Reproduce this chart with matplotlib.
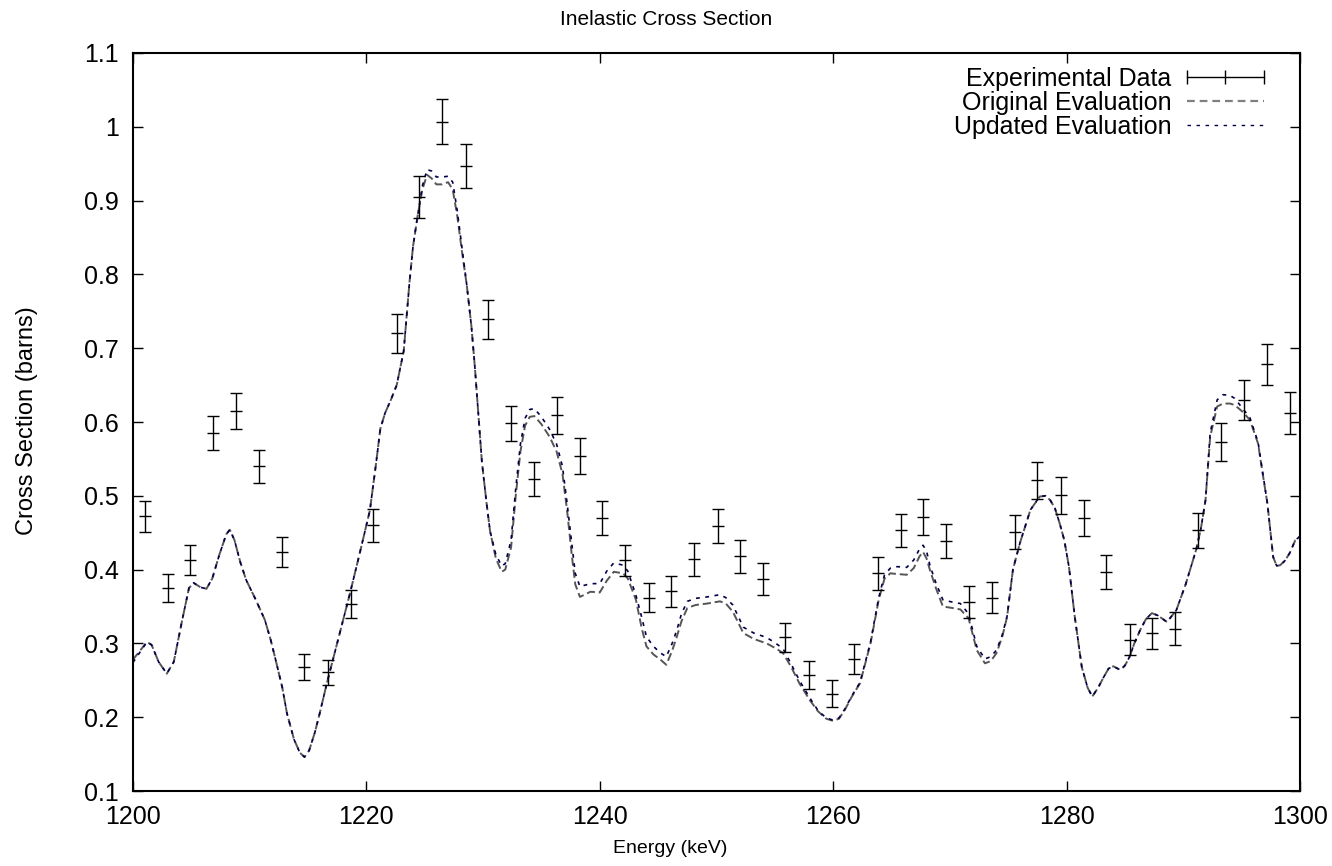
#!/usr/bin/env python3
"""Inelastic cross section: measured points against two evaluations."""

import matplotlib

matplotlib.use("Agg")
import matplotlib.pyplot as plt
from matplotlib.lines import Line2D
from matplotlib.ticker import FuncFormatter, MultipleLocator

plt.rcParams["font.family"] = ["Liberation Sans", "DejaVu Sans"]
plt.rcParams["font.size"] = 18

# Experimental points (keV, barns, 1-sigma)
exp_energy = [
    1201.0, 1203.0, 1204.9, 1206.9, 1208.8, 1210.8, 1212.8, 1214.7, 1216.7,
    1218.7, 1220.6, 1222.6, 1224.5, 1226.5, 1228.5, 1230.4, 1232.4, 1234.4,
    1236.3, 1238.3, 1240.2, 1242.2, 1244.2, 1246.1, 1248.1, 1250.1, 1252.0,
    1254.0, 1255.9, 1257.9, 1259.9, 1261.8, 1263.8, 1265.8, 1267.7, 1269.7,
    1271.6, 1273.6, 1275.6, 1277.5, 1279.5, 1281.5, 1283.4, 1285.4, 1287.3,
    1289.3, 1291.3, 1293.2, 1295.2, 1297.2, 1299.1,
]
exp_sigma = [
    0.472, 0.375, 0.413, 0.585, 0.615, 0.540, 0.424, 0.268, 0.261,
    0.353, 0.460, 0.720, 0.905, 1.007, 0.947, 0.739, 0.598, 0.523,
    0.609, 0.554, 0.470, 0.413, 0.362, 0.371, 0.414, 0.459, 0.418,
    0.387, 0.308, 0.257, 0.232, 0.279, 0.395, 0.453, 0.471, 0.439,
    0.356, 0.362, 0.451, 0.521, 0.501, 0.470, 0.397, 0.305, 0.314,
    0.320, 0.453, 0.573, 0.630, 0.678, 0.612,
]
exp_err = [
    0.021, 0.019, 0.020, 0.023, 0.024, 0.022, 0.020, 0.017, 0.017,
    0.019, 0.022, 0.026, 0.029, 0.030, 0.030, 0.026, 0.024, 0.023,
    0.025, 0.024, 0.023, 0.021, 0.020, 0.021, 0.022, 0.023, 0.022,
    0.022, 0.020, 0.019, 0.018, 0.020, 0.022, 0.023, 0.024, 0.023,
    0.022, 0.021, 0.023, 0.025, 0.025, 0.024, 0.023, 0.021, 0.021,
    0.022, 0.024, 0.026, 0.027, 0.028, 0.028,
]

# Evaluated curves, sampled on a shared energy grid (keV)
eval_energy = [
    1200.0, 1200.6, 1201.2, 1201.6, 1202.2, 1202.9, 1203.5, 1204.2, 1204.8,
    1205.2, 1205.8, 1206.3, 1206.8, 1207.4, 1208.0, 1208.3, 1208.7, 1209.2,
    1209.7, 1210.5, 1211.3, 1211.8, 1212.3, 1212.8, 1213.2, 1213.8, 1214.3,
    1214.7, 1215.1, 1215.6, 1216.0, 1216.6, 1217.2, 1217.9, 1218.6, 1219.4,
    1220.3, 1220.8, 1221.2, 1221.6, 1222.1, 1222.6, 1223.2, 1223.7, 1224.0,
    1224.4, 1224.8, 1225.2, 1225.6, 1226.0, 1226.5, 1227.0, 1227.4, 1227.8,
    1228.2, 1228.6, 1229.0, 1229.3, 1229.6, 1229.9, 1230.3, 1230.6, 1231.1,
    1231.6, 1231.9, 1232.4, 1232.8, 1233.2, 1233.6, 1234.0, 1234.4, 1235.0,
    1235.7, 1236.3, 1236.8, 1237.2, 1237.6, 1237.9, 1238.3, 1239.2, 1240.0,
    1240.6, 1241.2, 1242.0, 1242.4, 1243.1, 1243.6, 1244.0, 1244.6, 1245.2,
    1245.7, 1246.2, 1246.6, 1247.0, 1247.5, 1248.2, 1249.2, 1250.3, 1250.8,
    1251.4, 1252.3, 1253.2, 1254.3, 1255.0, 1255.7, 1256.4, 1257.1, 1258.0,
    1258.7, 1259.4, 1260.0, 1260.5, 1261.0, 1261.6, 1262.3, 1263.2, 1263.9,
    1264.4, 1264.9, 1265.5, 1266.3, 1266.9, 1267.4, 1267.7, 1268.0, 1268.3,
    1268.8, 1269.4, 1270.2, 1270.9, 1271.6, 1272.3, 1273.0, 1273.5, 1274.0,
    1274.5, 1274.9, 1275.4, 1276.0, 1276.9, 1277.7, 1278.2, 1278.6, 1279.0,
    1279.4, 1279.8, 1280.2, 1280.7, 1281.3, 1281.8, 1282.2, 1282.7, 1283.2,
    1283.6, 1284.0, 1284.6, 1285.0, 1285.4, 1285.8, 1286.3, 1286.8, 1287.3,
    1287.8, 1288.6, 1289.4, 1290.2, 1291.1, 1291.5, 1291.9, 1292.3, 1292.9,
    1293.4, 1294.0, 1294.4, 1295.0, 1295.7, 1296.4, 1296.8, 1297.2, 1297.7,
    1298.0, 1298.3, 1298.7, 1299.1, 1299.6, 1300.0,
]
original_eval = [
    0.278, 0.290, 0.302, 0.298, 0.275, 0.259, 0.275, 0.330, 0.375,
    0.382, 0.376, 0.374, 0.388, 0.420, 0.448, 0.454, 0.440, 0.410,
    0.386, 0.360, 0.332, 0.305, 0.273, 0.240, 0.205, 0.170, 0.152,
    0.146, 0.155, 0.180, 0.205, 0.245, 0.282, 0.325, 0.368, 0.420,
    0.480, 0.540, 0.591, 0.612, 0.630, 0.650, 0.696, 0.790, 0.838,
    0.880, 0.915, 0.935, 0.930, 0.922, 0.922, 0.925, 0.915, 0.878,
    0.830, 0.786, 0.730, 0.674, 0.610, 0.546, 0.490, 0.452, 0.415,
    0.397, 0.400, 0.430, 0.500, 0.560, 0.595, 0.607, 0.608, 0.597,
    0.580, 0.560, 0.530, 0.480, 0.420, 0.380, 0.363, 0.370, 0.369,
    0.385, 0.397, 0.395, 0.388, 0.359, 0.320, 0.296, 0.285, 0.278,
    0.271, 0.290, 0.309, 0.330, 0.348, 0.352, 0.354, 0.357, 0.354,
    0.343, 0.314, 0.306, 0.300, 0.294, 0.287, 0.268, 0.246, 0.223,
    0.208, 0.198, 0.195, 0.198, 0.210, 0.228, 0.246, 0.300, 0.359,
    0.388, 0.395, 0.394, 0.393, 0.402, 0.418, 0.424, 0.415, 0.399,
    0.375, 0.350, 0.348, 0.346, 0.334, 0.291, 0.273, 0.276, 0.287,
    0.310, 0.336, 0.400, 0.436, 0.481, 0.499, 0.500, 0.494, 0.483,
    0.463, 0.440, 0.404, 0.336, 0.268, 0.240, 0.228, 0.240, 0.255,
    0.266, 0.269, 0.264, 0.270, 0.282, 0.300, 0.318, 0.333, 0.341,
    0.338, 0.329, 0.345, 0.380, 0.427, 0.455, 0.494, 0.580, 0.621,
    0.625, 0.625, 0.623, 0.615, 0.603, 0.571, 0.530, 0.490, 0.417,
    0.405, 0.406, 0.412, 0.422, 0.440, 0.445,
]
updated_eval = [
    0.274, 0.288, 0.302, 0.298, 0.275, 0.259, 0.275, 0.330, 0.375,
    0.382, 0.376, 0.374, 0.388, 0.420, 0.448, 0.454, 0.440, 0.410,
    0.386, 0.360, 0.332, 0.305, 0.273, 0.240, 0.205, 0.170, 0.152,
    0.146, 0.155, 0.180, 0.205, 0.245, 0.282, 0.325, 0.368, 0.420,
    0.480, 0.540, 0.591, 0.612, 0.630, 0.650, 0.696, 0.790, 0.838,
    0.880, 0.920, 0.942, 0.940, 0.932, 0.932, 0.933, 0.925, 0.885,
    0.835, 0.786, 0.730, 0.674, 0.610, 0.546, 0.490, 0.452, 0.420,
    0.405, 0.408, 0.440, 0.510, 0.570, 0.605, 0.617, 0.618, 0.607,
    0.590, 0.570, 0.540, 0.490, 0.435, 0.395, 0.377, 0.381, 0.381,
    0.398, 0.409, 0.406, 0.398, 0.365, 0.335, 0.309, 0.296, 0.287,
    0.282, 0.300, 0.318, 0.340, 0.357, 0.361, 0.363, 0.366, 0.362,
    0.352, 0.322, 0.314, 0.308, 0.301, 0.293, 0.272, 0.250, 0.226,
    0.209, 0.199, 0.196, 0.199, 0.211, 0.229, 0.247, 0.302, 0.362,
    0.393, 0.402, 0.404, 0.403, 0.413, 0.428, 0.433, 0.425, 0.405,
    0.382, 0.359, 0.356, 0.354, 0.340, 0.296, 0.279, 0.282, 0.291,
    0.312, 0.337, 0.400, 0.436, 0.481, 0.499, 0.500, 0.494, 0.483,
    0.463, 0.440, 0.404, 0.336, 0.268, 0.240, 0.228, 0.240, 0.255,
    0.266, 0.269, 0.264, 0.270, 0.282, 0.300, 0.318, 0.333, 0.341,
    0.338, 0.329, 0.345, 0.380, 0.427, 0.455, 0.494, 0.585, 0.630,
    0.637, 0.636, 0.632, 0.620, 0.606, 0.573, 0.531, 0.490, 0.417,
    0.405, 0.406, 0.412, 0.422, 0.440, 0.445,
]

ORIG_COLOR = "#555555"
ORIG_KEY = "#808080"
UPD_COLOR = "#00004a"


def main():
    fig = plt.figure(figsize=(13.32, 8.66), dpi=100)
    ax = fig.add_axes([0.0998, 0.0866, 0.8762, 0.8522])

    ax.errorbar(exp_energy, exp_sigma, yerr=exp_err, fmt="_", color="black",
                ms=8, mew=1.0, elinewidth=1.0, capsize=4, capthick=1.0,
                zorder=3)
    ax.plot(eval_energy, original_eval, color=ORIG_COLOR, lw=1.4,
            dashes=(4.2, 2.0), zorder=2)
    ax.plot(eval_energy, updated_eval, color=UPD_COLOR, lw=1.2,
            dashes=(2.3, 3.3), zorder=2)

    ax.set_xlim(1200, 1300)
    ax.set_ylim(0.1, 1.1)
    ax.xaxis.set_major_locator(MultipleLocator(20))
    ax.yaxis.set_major_locator(MultipleLocator(0.1))
    ax.yaxis.set_major_formatter(FuncFormatter(lambda v, _: f"{v:g}"))
    ax.tick_params(direction="in", length=7, width=1.0, top=True, right=True,
                   labelsize=18, pad=10)
    for spine in ax.spines.values():
        spine.set_linewidth(1.5)

    # gnuplot centres the title and axis labels on the canvas
    fig.suptitle("Inelastic Cross Section", x=0.5, y=0.977, va="center",
                 fontsize=15)
    fig.supxlabel("Energy (keV)", x=0.503, y=0.02, va="center", fontsize=14)
    fig.supylabel("Cross Section (barns)", x=0.02, y=0.514, ha="center",
                  va="center", fontsize=17)

    handles = [
        Line2D([], [], color="black", lw=1.0, marker="|", ms=10, mew=1.0),
        Line2D([], [], color=ORIG_KEY, lw=1.6, dashes=(3.5, 2.2)),
        Line2D([], [], color=UPD_COLOR, lw=1.0, dashes=(2.5, 4.0)),
    ]
    labels = ["Experimental Data", "Original Evaluation", "Updated Evaluation"]
    ax.legend(handles, labels, loc="upper right", frameon=False,
              markerfirst=False, numpoints=3, fontsize=18, handlelength=3.7,
              handletextpad=0.3, labelspacing=0.0, borderpad=0.4,
              bbox_to_anchor=(0.995, 1.012))

    fig.savefig("out.png", dpi=100)
    plt.close(fig)


if __name__ == "__main__":
    main()
